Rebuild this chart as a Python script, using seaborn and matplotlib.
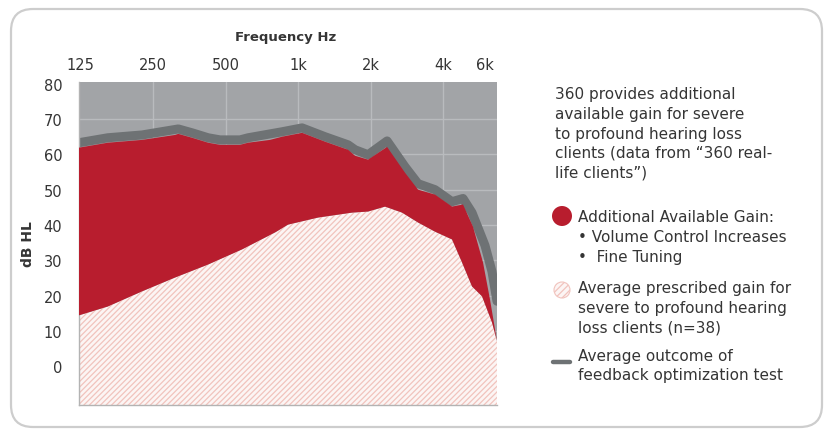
import numpy as np
import matplotlib
matplotlib.use("Agg")
import matplotlib.pyplot as plt
import seaborn as sns
from matplotlib.patches import FancyBboxPatch, Circle
from matplotlib.lines import Line2D
from matplotlib.transforms import IdentityTransform

# ---------------- data ----------------
freq_ticks = [125, 250, 500, 1000, 2000, 4000, 6000]
freq_tick_labels = ["125", "250", "500", "1k", "2k", "4k", "6k"]
grid_freqs = [250, 500, 1000, 2000, 4000]
db_ticks = [0, 10, 20, 30, 40, 50, 60, 70, 80]

# top of red area (additional available gain)
avail_freq = [123, 162, 225, 308, 318, 363, 423, 474, 574, 620, 765, 858, 1039,
              1294, 1613, 1725, 1953, 2343, 2781, 3150, 3705, 4360, 4844, 5329,
              5864, 6269, 6704]
avail_db = [61.9, 63.3, 64.1, 65.5, 65.8, 64.7, 63.3, 62.7, 62.7, 63.3, 64.1, 65.0,
            66.1, 63.6, 61.3, 59.6, 58.5, 62.1, 54.8, 50.0, 48.6, 45.2, 45.8, 39.5,
            29.4, 18.9, 7.1]

# average outcome of feedback optimization test
feedback_freq = [123, 162, 225, 318, 363, 423, 474, 574, 620, 858, 1039, 1294,
                 1613, 1725, 1953, 2343, 2781, 3150, 3705, 4360, 4844, 5278, 5976,
                 6390, 6704]
feedback_db = [63.3, 64.7, 65.5, 67.2, 66.1, 64.7, 64.1, 64.1, 64.7, 66.4, 67.5,
               65.0, 62.7, 61.3, 59.9, 63.8, 56.5, 51.7, 50.0, 46.6, 47.5, 43.5,
               34.2, 26.8, 18.4]

# average prescribed gain (hatched)
prescribed_freq = [123, 162, 225, 308, 423, 586, 803, 909, 1211, 1676, 1953, 2298,
                   2703, 3150, 3705, 4360, 4797, 5278, 5808, 6390, 6704]
prescribed_db = [14.4, 16.9, 21.2, 25.1, 28.8, 33.1, 37.9, 40.1, 42.1, 43.5, 43.8,
                 45.2, 43.5, 40.7, 38.1, 35.9, 29.4, 22.6, 19.8, 12.4, 7.1]

intro_lines = ["360 provides additional", "available gain for severe",
               "to profound hearing loss", "clients (data from \u201c360 real-",
               "life clients\u201d)"]
legend_red = ["Additional Available Gain:", "\u2022 Volume Control Increases",
              "\u2022  Fine Tuning"]
legend_hatch = ["Average prescribed gain for", "severe to profound hearing",
                "loss clients (n=38)"]
legend_line = ["Average outcome of", "feedback optimization test"]

# ---------------- style ----------------
sns.set_theme(style="white")
FONT = ["DejaVu Sans"]
plt.rcParams["font.family"] = FONT
plt.rcParams["hatch.linewidth"] = 0.9

RED = "#b81d2e"
BG_GRAY = "#a2a4a7"
GRID = "#b9bbbe"
LINE_GRAY = "#6e7274"
HATCH = "#f1c3bd"
HATCH_BG = "#fcf5f4"
TXT = "#353535"

W, H = 829, 435
fig = plt.figure(figsize=(W / 100, H / 100), dpi=100)
fig.patch.set_facecolor("white")

def fx(px):
    return px / W

def fy(py):
    return 1 - py / H

# rounded frame
frame = FancyBboxPatch((11, 7), 811, 418, boxstyle="round,pad=0,rounding_size=22",
                       transform=IdentityTransform(), facecolor="none",
                       edgecolor="#cdcdcd", linewidth=1.6)
fig.patches.append(frame)

ax = fig.add_axes([fx(79), 1 - 406 / H, fx(497) - fx(79), (406 - 83) / H])
ax.set_facecolor(BG_GRAY)
ax.set_xscale("log", base=2)
ax.set_xlim(123, 6704)
ax.set_ylim(-11, 80.5)

# grid
for g in grid_freqs:
    ax.axvline(g, color=GRID, lw=1.0, zorder=0.5)
for d in db_ticks[1:8]:
    ax.axhline(d, color=GRID, lw=1.0, zorder=0.5)

# feedback line (drawn under the red)
sns.lineplot(x=feedback_freq, y=feedback_db, ax=ax, color=LINE_GRAY, lw=6.5,
             sort=False, estimator=None, zorder=1, legend=False)

# hatched prescribed area
ax.fill_between(prescribed_freq, -12, prescribed_db, facecolor=HATCH_BG,
                edgecolor=HATCH, hatch="//////", linewidth=0, zorder=2)

# red additional gain area
ax.fill(np.r_[avail_freq, prescribed_freq[::-1]],
        np.r_[avail_db, prescribed_db[::-1]], color=RED, lw=0, zorder=3)

# axes ticks
ax.set_xticks(freq_ticks)
ax.set_xticklabels(freq_tick_labels)
ax.xaxis.set_minor_locator(matplotlib.ticker.NullLocator())
ax.set_yticks(db_ticks)
ax.tick_params(axis="x", top=True, labeltop=True, bottom=False, labelbottom=False,
               length=0, pad=7, labelsize=10.5, labelcolor=TXT)
ax.tick_params(axis="y", left=False, length=0, pad=12, labelsize=10.5, labelcolor=TXT)
ax.grid(False)
for s in ["top", "right"]:
    ax.spines[s].set_visible(False)
for s in ["left", "bottom"]:
    ax.spines[s].set_color("#b3b3b3")
    ax.spines[s].set_linewidth(1.0)

ax.set_xlabel("")
ax.set_ylabel("")
fig.text(fx(286), fy(38), "Frequency Hz", ha="center", va="center",
         fontsize=9.5, fontweight="bold", color=TXT)
fig.text(fx(28), fy(244), "dB HL", ha="center", va="center", rotation=90,
         fontsize=10, fontweight="bold", color=TXT)

# right-hand text
FS = 11
for i, t in enumerate(intro_lines):
    fig.text(fx(555), fy(95 + i * 19.5), t, ha="left", va="center",
             fontsize=FS, color=TXT)

ys_red = [218, 238, 258]
for t, y in zip(legend_red, ys_red):
    fig.text(fx(578), fy(y), t, ha="left", va="center", fontsize=FS, color=TXT)
ys_hatch = [288, 308, 328]
for t, y in zip(legend_hatch, ys_hatch):
    fig.text(fx(578), fy(y), t, ha="left", va="center", fontsize=FS, color=TXT)
ys_line = [356, 376]
for t, y in zip(legend_line, ys_line):
    fig.text(fx(578), fy(y), t, ha="left", va="center", fontsize=FS, color=TXT)

# legend icons (pixel coordinates, display y from bottom)
fig.patches.append(Circle((562, H - 217), 10, transform=IdentityTransform(),
                          facecolor=RED, edgecolor="none"))
fig.patches.append(Circle((562, H - 291), 8, transform=IdentityTransform(),
                          facecolor=HATCH_BG, edgecolor=HATCH, hatch="/////",
                          linewidth=0.8))
fig.lines.append(Line2D([553, 570], [H - 363, H - 363], transform=IdentityTransform(),
                        color=LINE_GRAY, lw=3.2))

fig.savefig("out.png", dpi=100)
